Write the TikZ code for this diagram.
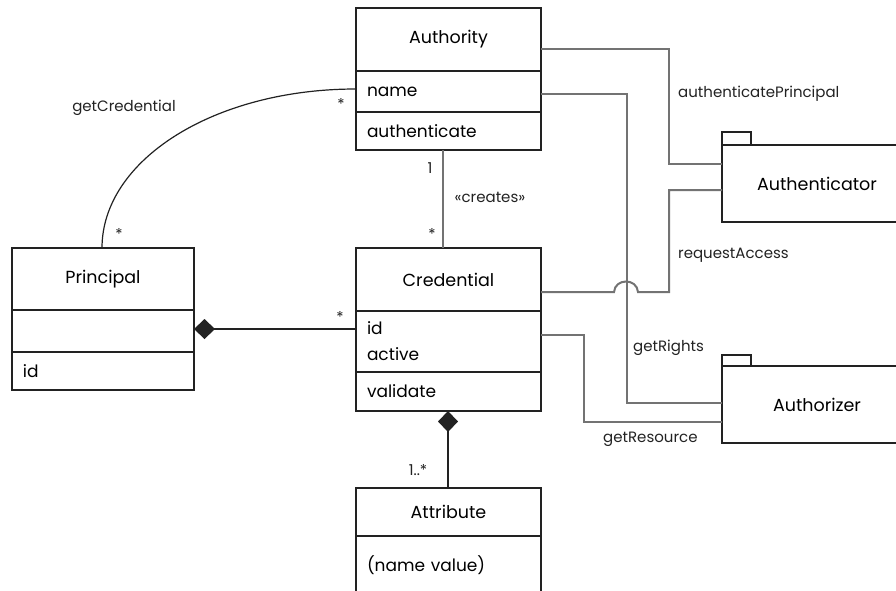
\documentclass[tikz,border=0pt]{standalone}
\usepackage{fontspec}
\setmainfont{Poppins}
\usetikzlibrary{arrows.meta}
\definecolor{ink}{HTML}{222222}
\definecolor{wire}{HTML}{737373}
\begin{document}
\begin{tikzpicture}[x=1pt,y=-1pt,
  part/.style={draw=ink,line width=1.3pt,rectangle,inner sep=0pt,outer sep=0pt,anchor=north west},
  head/.style={part,font=\fontsize{17.5}{20}\selectfont,align=center},
  field/.style={part,font=\fontsize{17}{26}\selectfont,align=left,text width=#1-22pt,inner xsep=11pt},
  blank/.style={part},
  pkg/.style={part,font=\fontsize{17.5}{20}\selectfont,align=center},
  conn/.style={draw=wire,line width=2pt},
  assoc/.style={draw=ink,line width=1.2pt},
  lbl/.style={font=\fontsize{15}{18}\selectfont,text=ink,inner sep=0pt},
  mult/.style={font=\fontsize{15}{18}\selectfont,text=ink,inner sep=0pt},
  comp/.style={-{Diamond[length=21pt,width=20pt,fill=ink]},assoc}
]
\useasboundingbox (0,0) rectangle (896,590);

% Authority class
\node[head,minimum width=185pt,minimum height=63pt] (authT) at (356,8) {Authority};
\node[field=185pt,minimum width=185pt,minimum height=41pt] (authN) at (356,71) {name};
\node[field=185pt,minimum width=185pt,minimum height=38pt] (authM) at (356,112) {authenticate};

% Credential class
\node[head,minimum width=185pt,minimum height=63pt] (credT) at (356,248) {Credential};
\node[field=185pt,minimum width=185pt,minimum height=61pt] (credA) at (356,311) {id\\active};
\node[field=185pt,minimum width=185pt,minimum height=39pt] (credM) at (356,372) {validate};

% Principal class
\node[head,minimum width=182pt,minimum height=62pt] (prinT) at (12,248) {Principal};
\node[blank,minimum width=182pt,minimum height=42pt] (prinA) at (12,310) {};
\node[field=182pt,minimum width=182pt,minimum height=38pt] (prinM) at (12,352) {id};

% Attribute class
\node[head,minimum width=185pt,minimum height=48pt] (attrT) at (356,488) {Attribute};
\node[field=185pt,minimum width=185pt,minimum height=58pt] (attrA) at (356,536) {(name value)};

% Authenticator and Authorizer packages
\node[blank,minimum width=29pt,minimum height=13pt] (authrTab) at (722,132) {};
\node[pkg,minimum width=190pt,minimum height=77pt] (authr) at (722,145) {Authenticator};
\node[blank,minimum width=29pt,minimum height=11pt] (authzTab) at (722,355) {};
\node[pkg,minimum width=190pt,minimum height=77pt] (authz) at (722,366) {Authorizer};

% Service calls
\draw[conn] (authT.east |- 0,49) -- (669,49) -- (669,164) -- (authr.west |- 0,164);
\draw[conn] (authN.east |- 0,94) -- (627,94) -- (627,403) -- (authz.west |- 0,403);
\draw[conn] (credT.east |- 0,292) -- (614,292)
  .. controls (615,278) and (637,278) .. (638,292)
  -- (669,292) -- (669,190) -- (authr.west |- 0,190);
\draw[conn] (credA.east |- 0,335) -- (584,335) -- (584,422) -- (authz.west |- 0,422);

% Associations
\draw[conn] (authM.south -| 443,0) -- (credT.north -| 443,0);
\draw[assoc] (authN.west |- 0,89) .. controls (214,89) and (102,160) .. (prinT.north -| 102,0);
\draw[comp] (credA.west |- 0,329) -- (prinA.east |- 0,329);
\draw[comp] (attrT.north -| 448,0) -- (credM.south -| 448,0);

% Labels and multiplicities
\node[lbl] (lGetCred) at (124,108) {getCredential};
\node[mult] (mAuthStar) at (341,104) {*};
\node[mult] (mPrinStar) at (119,234) {*};
\node[mult] (mCompStar) at (340,317) {*};
\node[mult] (mOne) at (430,168) {1};
\node[lbl] (lCreates) at (490,197) {«creates»};
\node[mult] (mCredStar) at (432,234) {*};
\node[mult] (mAttr) at (418,470) {1..*};
\node[lbl,anchor=west] (lAuthP) at (678,94) {authenticatePrincipal};
\node[lbl,anchor=west] (lReq) at (678,255) {requestAccess};
\node[lbl,anchor=west] (lRights) at (633,348) {getRights};
\node[lbl,anchor=west] (lRes) at (603,439) {getResource};
\end{tikzpicture}
\end{document}
